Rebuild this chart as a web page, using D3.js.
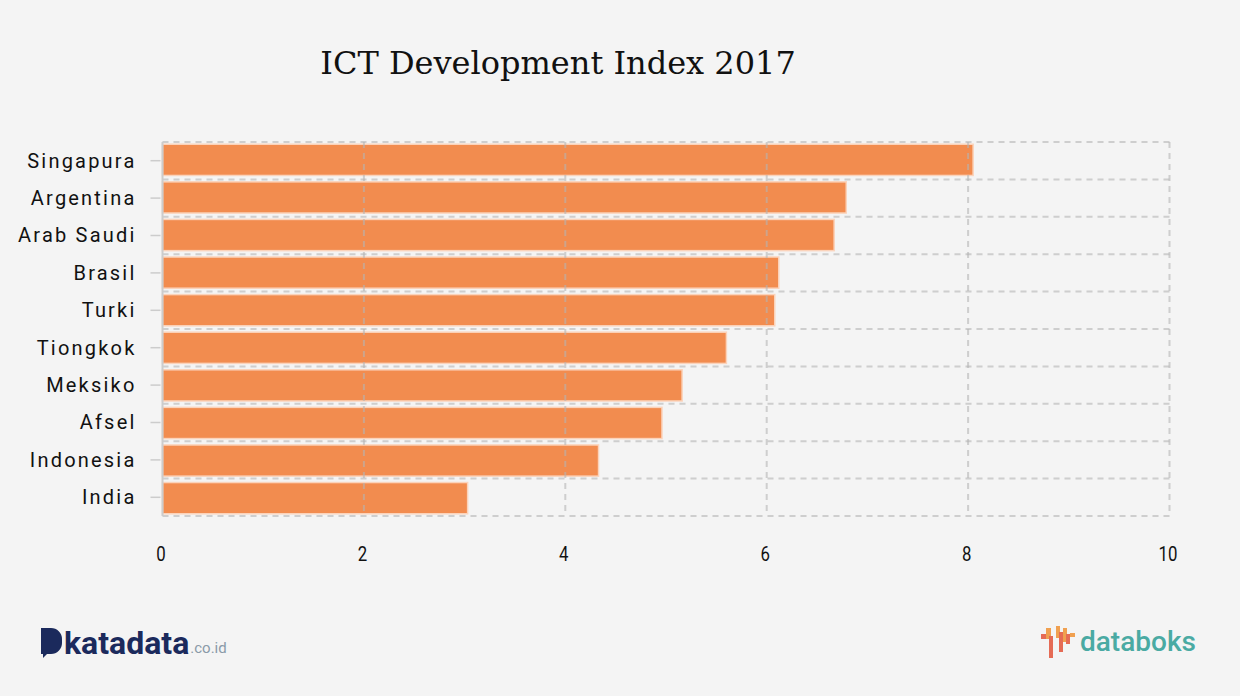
<!DOCTYPE html>
<html><head><meta charset="utf-8">
<script src="https://cdn.jsdelivr.net/npm/d3@7"></script>
<style>body{margin:0;background:#f4f4f4;}svg{display:block;}</style>
</head><body>
<script>
const categories = ["Singapura","Argentina","Arab Saudi","Brasil","Turki","Tiongkok","Meksiko","Afsel","Indonesia","India"];
const values = [8.05,6.79,6.67,6.12,6.08,5.60,5.16,4.96,4.33,3.03];
const xTicks = [0,2,4,6,8,10];
const title = "ICT Development Index 2017";

const W=1240,H=696;
const svg=d3.select("body").append("svg").attr("width",W).attr("height",H);
svg.append("rect").attr("width",W).attr("height",H).attr("fill","#f4f4f4");

const L=162.5,R=1169.5,T=142,B=516;
const x=d3.scaleLinear().domain([0,10]).range([L,R]);
const y=d3.scaleBand().domain(categories).range([T,B]).paddingInner(0.17).paddingOuter(0.06);
const yb=d3.scaleBand().domain(categories).range([T,B]);

svg.append("text").attr("x",558).attr("y",74).attr("text-anchor","middle")
  .attr("font-family","DejaVu Serif, serif").attr("font-size",32).attr("fill","#111").text(title);

// bars
svg.append("g").selectAll("rect").data(categories).join("rect")
  .attr("x",x(0)).attr("y",d=>y(d)).attr("height",y.bandwidth())
  .attr("width",(d,i)=>x(values[i])-x(0))
  .attr("fill","#f28c4f").attr("stroke","#fbd3bb").attr("stroke-width",1.5);

// grid
const g=svg.append("g").attr("stroke","rgba(180,180,180,0.6)").attr("stroke-width",2).attr("stroke-dasharray","6,5");
const hLines=[T].concat(categories.map(c=>yb(c)+yb.bandwidth()));
g.selectAll("line.h").data(hLines).join("line").attr("class","h")
  .attr("x1",L).attr("x2",R).attr("y1",d=>d).attr("y2",d=>d);
g.selectAll("line.v").data(xTicks.slice(1)).join("line").attr("class","v")
  .attr("x1",d=>x(d)).attr("x2",d=>x(d)).attr("y1",T).attr("y2",B);

// y axis
const ya=svg.append("g").attr("transform",`translate(${L},0)`)
  .call(d3.axisLeft(yb).tickSize(12).tickPadding(14));
ya.select(".domain").attr("stroke","#ccc").attr("stroke-width",2).attr("d",`M0,${T}V${B}`);
ya.selectAll(".tick line").attr("stroke","#ccc").attr("stroke-width",1.5).attr("x1",-12).attr("x2",-2);
ya.selectAll(".tick text").attr("font-family","Roboto, sans-serif").attr("font-size",20)
  .attr("letter-spacing","2.2px").attr("fill","#111").attr("dy","0.34em");

// x axis
const xa=svg.append("g").attr("transform",`translate(0,${B})`)
  .call(d3.axisBottom(x).tickValues(xTicks).tickSize(0).tickPadding(0));
xa.select(".domain").remove();
xa.selectAll(".tick text").attr("font-family","Roboto, sans-serif")
  .attr("font-size",21).attr("fill","#111").attr("y",0).attr("dy",0)
  .attr("transform","translate(-2,45) scale(0.8,1)");

// katadata logo
const k=svg.append("g");
k.append("path").attr("d","M41,628 h10 a11,11 0 0 1 11,11 v4 a11,11 0 0 1 -11,11 h-4 l-4,4 v-4 h-2 z").attr("fill","#1b2a5c");
const kt=k.append("text").attr("x",64).attr("y",654).attr("font-family","Roboto, sans-serif").attr("font-weight",700)
  .attr("font-size",32).attr("fill","#1b2a5c").text("katadata");
const kw=kt.node().getComputedTextLength();
k.append("text").attr("x",64+kw+1).attr("y",653).attr("font-family","Roboto, sans-serif")
  .attr("font-size",15).attr("fill","#8a9aa8").text(".co.id");

// databoks logo
const db=svg.append("g");
const bars=[[1041,634,6,5,"#e56b55"],[1046,628,5,11,"#f0a050"],[1049,636,4,22,"#e56b55"],[1056,626,4,12,"#f0a050"],[1059,632,4,20,"#e56b55"],[1063,628,4,14,"#f0a050"],[1066,634,4,10,"#e56b55"],[1070,633,5,4,"#f0a050"]];
db.selectAll("rect").data(bars).join("rect").attr("x",d=>d[0]).attr("y",d=>d[1]).attr("width",d=>d[2]).attr("height",d=>d[3]).attr("fill",d=>d[4]);
db.append("text").attr("x",1080).attr("y",651).attr("font-family","Roboto, sans-serif").attr("font-weight",500)
  .attr("font-size",28).attr("fill","#4aaaa3").text("databoks");
</script>
</body></html>
